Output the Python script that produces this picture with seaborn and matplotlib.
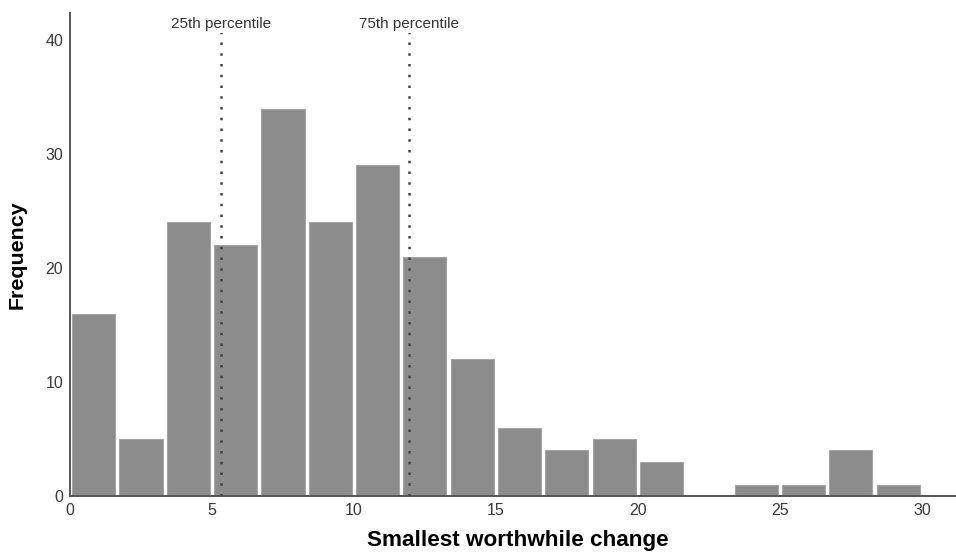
import matplotlib
matplotlib.use('Agg')
import matplotlib.pyplot as plt
import numpy as np
import pandas as pd
import seaborn as sns

# histogram: 18 equal-width bins on 0-30
bin_edges = list(np.linspace(0, 30, 19))
counts = [16, 5, 24, 22, 34, 24, 29, 21, 12, 6, 4, 5, 3, 0, 1, 1, 4, 1]
percentiles = [5.33, 11.94]
percentile_labels = ['25th percentile', '75th percentile']
x_ticks = [0, 5, 10, 15, 20, 25, 30]
y_ticks = [0, 10, 20, 30, 40]

sns.set_theme(style='white')
plt.rcParams['font.family'] = ['Liberation Sans', 'DejaVu Sans']

fig = plt.figure(figsize=(9.56, 5.56), dpi=100)
ax = fig.add_axes([0.0732, 0.108, 0.9268, 0.869])

# bars
df = pd.DataFrame({'change': [(a + b) / 2 for a, b in zip(bin_edges[:-1], bin_edges[1:])],
                   'count': counts})
sns.histplot(data=df, x='change', weights='count', bins=bin_edges, shrink=0.91,
             color='#8c8c8c', edgecolor='#a5a5a5', linewidth=0.8, alpha=1, ax=ax)

# percentile markers
for p, lab in zip(percentiles, percentile_labels):
    ax.axvline(p, color='#444444', linestyle=(0, (1, 3.3)), linewidth=1.8, zorder=3)
    ax.text(p, 41.4, lab, ha='center', va='center', fontsize=11, color='#333333',
            bbox=dict(facecolor='white', edgecolor='none', pad=1), zorder=4)

# axes format
ax.set_xlim(0, 31.2)
ax.set_ylim(0, 42.4)
ax.set_xticks(x_ticks)
ax.set_yticks(y_ticks)
ax.tick_params(length=0, labelsize=11.5, colors='#3a3a3a', pad=5)
for s in ['top', 'right']:
    ax.spines[s].set_visible(False)
for s in ['left', 'bottom']:
    ax.spines[s].set_color('#555555')
    ax.spines[s].set_linewidth(1.4)

ax.set_xlabel('Smallest worthwhile change', fontsize=16.2, fontweight='bold', color='black')
ax.xaxis.set_label_coords(0.5055, -0.07, transform=ax.transAxes)
ax.set_ylabel('Frequency', fontsize=15.4, fontweight='bold', color='black', labelpad=13)

fig.savefig('out.png', dpi=100)
